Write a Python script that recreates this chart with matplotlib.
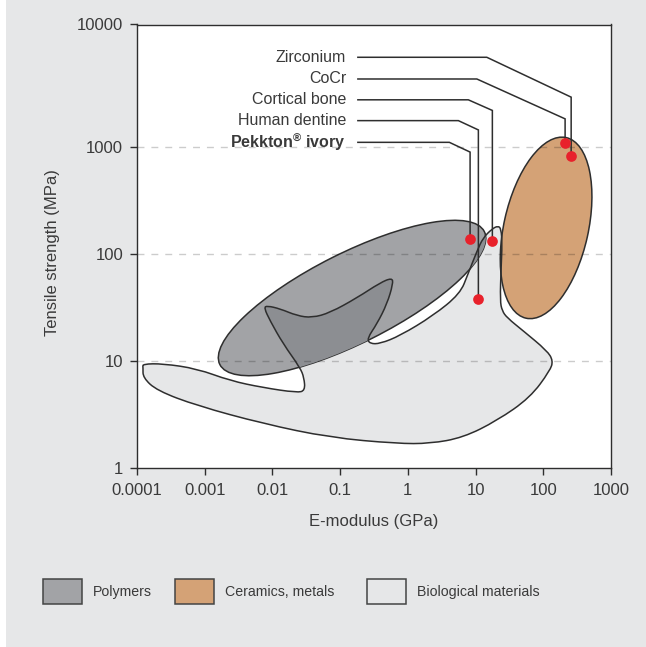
import numpy as np
import matplotlib
matplotlib.use("Agg")
import matplotlib.pyplot as plt
from matplotlib.patches import Ellipse, PathPatch, Rectangle
from matplotlib.path import Path
from matplotlib.transforms import ScaledTranslation

plt.rcParams['font.family'] = ['Liberation Sans', 'DejaVu Sans']
plt.rcParams['mathtext.fontset'] = 'custom'
plt.rcParams['mathtext.rm'] = 'Liberation Sans:bold'

# axis ticks
x_ticks = [0.0001, 0.001, 0.01, 0.1, 1, 10, 100, 1000]
x_labels = ['0.0001', '0.001', '0.01', '0.1', '1', '10', '100', '1000']
y_ticks = [1, 10, 100, 1000, 10000]
y_labels = ['1', '10', '100', '1000', '10000']
grid_y = [10, 100, 1000]

# labelled materials (E-modulus GPa, tensile strength MPa)
materials = ['Zirconium', 'CoCr', 'Cortical bone', 'Human dentine',
             r'Pekkton$^{\mathrm{®}}$ ivory']
e_modulus = [258, 210, 17.7, 11, 8.3]
tensile = [824, 1070, 132, 38, 138]

# material class regions
polymer_center = (0.15, 38.6)
ceramic_center = (110, 175)

# outline of biological materials, log10 values
bio_log_e = [-3.916, -3.616, -3.114, -2.626, -2.139, -1.637, -1.518, -1.533,
             -1.592, -1.843, -2.035, -2.124, -2.080, -1.888, -1.637, -1.415,
             -1.149, -0.750, -0.411, -0.233, -0.219, -0.307, -0.455, -0.603,
             -0.558, -0.411, -0.115, 0.372, 0.771, 0.889, 1.022, 1.111,
             1.244, 1.332, 1.377, 1.392, 1.377, 1.362, 1.392, 1.465,
             1.702, 2.056, 2.145, 2.100, 1.805, 1.318, 0.815, 0.328,
             -0.159, -1.149, -2.139, -3.114, -3.705, -3.911, -3.911]
bio_log_s = [0.969, 0.972, 0.925, 0.813, 0.748, 0.701, 0.720, 0.841,
             0.935, 1.159, 1.374, 1.495, 1.514, 1.486, 1.421, 1.402,
             1.449, 1.589, 1.729, 1.776, 1.720, 1.533, 1.346, 1.206,
             1.159, 1.159, 1.234, 1.421, 1.626, 1.813, 2.028, 2.150,
             2.234, 2.262, 2.234, 2.093, 1.869, 1.561, 1.467, 1.402,
             1.280, 1.093, 1.000, 0.907, 0.654, 0.439, 0.280, 0.224,
             0.224, 0.280, 0.411, 0.579, 0.720, 0.841, 0.935]

legend_labels = ['Polymers', 'Ceramics, metals', 'Biological materials']
legend_colors = ['#a2a3a6', '#d4a276', '#e6e7e8']

text_color = '#3a3a3a'
line_color = '#2e2e2e'


def smooth_outline(log_x, log_y):
    # closed quadratic bezier through the midpoints, outline points as controls
    p = np.column_stack([log_x, log_y])
    mid = (p + np.roll(p, -1, axis=0)) / 2
    verts = [mid[-1]]
    codes = [Path.MOVETO]
    for i in range(len(p)):
        verts += [p[i], mid[i]]
        codes += [Path.CURVE3, Path.CURVE3]
    verts = 10 ** np.array(verts)
    return Path(verts, codes)


fig = plt.figure(figsize=(6.46, 6.47), dpi=100, facecolor='#e6e7e8')
fig.add_artist(Rectangle((0, 0), 6 / 646, 1, transform=fig.transFigure,
                         facecolor='white', edgecolor='none', zorder=-5))
ax = fig.add_axes([137 / 646, 179.5 / 647, 474 / 646, 443 / 647])
ax.set_facecolor('white')

# top decade is drawn a bit taller than the others
K = 122.5 / 106.8


def fwd(v):
    t = np.log10(np.clip(np.asarray(v, float), 1e-12, None))
    return np.where(t <= 3, t, 3 + (t - 3) * K)


def inv(s):
    s = np.asarray(s, float)
    return np.where(s <= 3, 10.0 ** s, 10.0 ** (3 + (s - 3) / K))


ax.set_xscale('log')
ax.set_yscale('function', functions=(fwd, inv))
ax.set_xlim(1e-4, 1e3)
ax.set_ylim(1, 1e4)
ax.set_xticks(x_ticks)
ax.set_xticklabels(x_labels)
ax.set_yticks(y_ticks)
ax.set_yticklabels(y_labels)
ax.minorticks_off()
ax.tick_params(direction='out', length=5, width=1, color=line_color,
               labelsize=12, labelcolor=text_color)
ax.tick_params(axis='x', pad=6)
ax.tick_params(axis='y', pad=5)
for s in ax.spines.values():
    s.set_color(line_color)
    s.set_linewidth(1)

# regions
bio_path = smooth_outline(bio_log_e, bio_log_s)
ax.add_patch(PathPatch(bio_path, facecolor='#e6e7e8', edgecolor='none', zorder=1))

poly = Ellipse((0, 0), 2.96, 0.90, angle=26.7, facecolor='#a2a3a6',
               edgecolor=line_color, lw=1.1, zorder=2,
               transform=fig.dpi_scale_trans
               + ScaledTranslation(polymer_center[0], polymer_center[1], ax.transData))
ax.add_patch(poly)

overlap = PathPatch(bio_path, facecolor='#8c8e92', edgecolor='none', zorder=2.5)
ax.add_patch(overlap)
overlap.set_clip_path(poly)

ax.add_patch(Ellipse((0, 0), 0.844, 1.85, angle=-12.55, facecolor='#d4a276',
                     edgecolor=line_color, lw=1.1, zorder=3,
                     transform=fig.dpi_scale_trans
                     + ScaledTranslation(ceramic_center[0], ceramic_center[1], ax.transData)))

ax.add_patch(PathPatch(bio_path, facecolor='none', edgecolor=line_color,
                       lw=1.1, zorder=4))

for g in grid_y:
    ax.axhline(g, color='black', alpha=0.2, lw=1, dashes=(5, 5), zorder=3.5)

# leader lines and labels (axes fraction)
label_y = [0.926, 0.877, 0.830, 0.783, 0.734]
elbow_x = [0.738, 0.717, 0.699, 0.678, 0.659]
elbow_y = [0.836, 0.787, 0.806, 0.762, 0.712]
to_axes = ax.transData + ax.transAxes.inverted()
for i, name in enumerate(materials):
    px, py = to_axes.transform((e_modulus[i], tensile[i]))
    ax.plot([0.466, elbow_x[i], px, px], [label_y[i], label_y[i], elbow_y[i], py],
            color=line_color, lw=1.1, transform=ax.transAxes, zorder=5,
            solid_joinstyle='miter')
    ax.text(0.441, label_y[i], name, transform=ax.transAxes, ha='right',
            va='center', fontsize=11.5, color=text_color,
            fontweight='bold' if i == 4 else 'normal')

ax.plot(e_modulus, tensile, 'o', color='#e8212b', ms=7.7, mec='none', zorder=6)

ax.set_xlabel('E-modulus (GPa)', fontsize=12, color=text_color)
ax.set_ylabel('Tensile strength (MPa)', fontsize=12, color=text_color)
ax.xaxis.set_label_coords(0.5, -0.105)
ax.yaxis.set_label_coords(-0.163, 0.485)

# legend
box_x = [42.7, 175, 367]
for bx, lab, col in zip(box_x, legend_labels, legend_colors):
    fig.add_artist(Rectangle((bx / 646, 1 - 604 / 647), 39 / 646, 25 / 647,
                             transform=fig.transFigure, facecolor=col,
                             edgecolor='#444444', lw=1.1))
    fig.text((bx + 50) / 646, 1 - 592 / 647, lab, ha='left', va='center',
             fontsize=10.2, color=text_color)

fig.savefig('out.png', dpi=100, facecolor=fig.get_facecolor())
